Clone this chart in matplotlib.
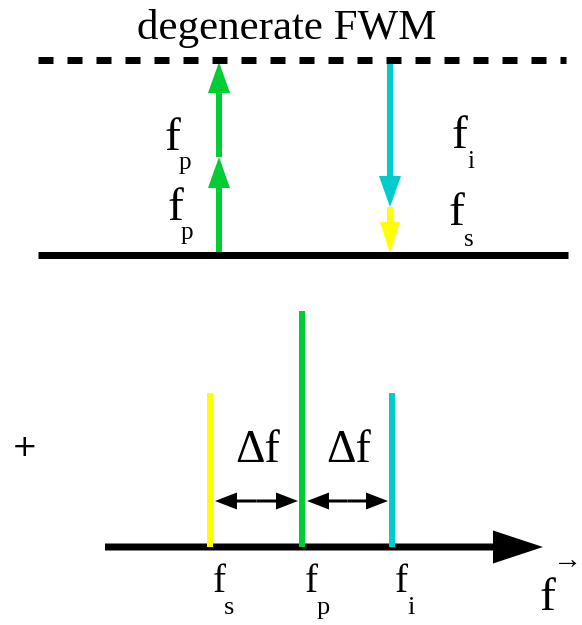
"""Degenerate four-wave mixing: energy levels and resulting spectrum."""

import matplotlib
matplotlib.use("Agg")
import matplotlib.pyplot as plt
from matplotlib.patches import FancyArrow

plt.rcParams["font.family"] = ["Liberation Serif", "DejaVu Serif"]
plt.rcParams["lines.scale_dashes"] = False

W, H = 582, 625
PX = 72 / 100  # points per pixel at dpi 100

GREEN = "#00cc33"
CYAN = "#00cccc"
YELLOW = "#ffff00"

# energy-level diagram (pixel coordinates, y grows downward)
ground_level = 255
virtual_level = 60
pump_x = 219
pump_steps = [255, 157, 62]          # two stacked pump photons
idler_x = 390
idler_span = [60, 207]
signal_span = [207, 253]

# spectrum
spec_names = ["s", "p", "i"]
spec_pos = [210, 302, 392]
spec_top = [393, 311, 393]
spec_colors = [YELLOW, GREEN, CYAN]
axis_y = 547
delta_y = 501


def arrow(ax, x0, y0, x1, y1, color, width, hw, hl):
    ax.add_patch(FancyArrow(x0, y0, x1 - x0, y1 - y0, width=width, head_width=hw,
                            head_length=hl, length_includes_head=True,
                            color=color, lw=0))


def flabel(ax, x, y, sub, dx, dy, size=34, subsize=18):
    ax.text(x, y, "f", fontsize=size, ha="center", va="baseline")
    ax.text(x + dx, y + dy, sub, fontsize=subsize, ha="center", va="baseline")


fig = plt.figure(figsize=(W / 100, H / 100), dpi=100)
ax = fig.add_axes([0, 0, 1, 1])
ax.set_xlim(0, W)
ax.set_ylim(H, 0)
ax.axis("off")

ax.text(287, 39, "degenerate FWM", fontsize=31, ha="center", va="baseline")

ax.plot([38, 566], [virtual_level] * 2, color="black", lw=7 * PX,
        dashes=(15 * PX, 14 * PX), solid_capstyle="butt", dash_capstyle="butt")
ax.plot([38, 568], [ground_level] * 2, color="black", lw=7 * PX,
        solid_capstyle="butt")

for y0, y1 in zip(pump_steps[:-1], pump_steps[1:]):
    arrow(ax, pump_x, y0, pump_x, y1, GREEN, 6, 22, 31)
arrow(ax, idler_x, signal_span[0], idler_x, signal_span[1], YELLOW, 6, 20, 31)
arrow(ax, idler_x, idler_span[0], idler_x, idler_span[1], CYAN, 6, 22, 31)

flabel(ax, 172, 150, "p", 13, 19)
flabel(ax, 175, 220, "p", 12, 19)
flabel(ax, 459, 148, "i", 12, 20)
flabel(ax, 456, 225, "s", 13, 21)

# spectrum
arrow(ax, 105, axis_y, 543, axis_y, "black", 7, 33, 50)
for x, top, c in zip(spec_pos, spec_top, spec_colors):
    ax.plot([x, x], [axis_y, top], color=c, lw=6 * PX, solid_capstyle="butt")

for a, b in zip(spec_pos[:-1], spec_pos[1:]):
    lo, hi = a + 5, b - 4
    mid = (lo + hi) / 2
    arrow(ax, mid, delta_y, lo, delta_y, "black", 3, 17, 22)
    arrow(ax, mid, delta_y, hi, delta_y, "black", 3, 17, 22)
    ax.text(mid + 1, 462, "Δf", fontsize=33, ha="center", va="baseline")

for x, name in zip(spec_pos, spec_names):
    flabel(ax, x + 9, 592, name, 12 if name == "p" else 10, 22, size=28, subsize=19)

ax.text(547, 610, "f", fontsize=34, ha="center", va="baseline")
ax.text(568, 568, "→", fontsize=21, ha="center", va="baseline")
ax.text(25, 447, "+", fontsize=22, ha="center", va="center",
        family=["DejaVu Sans"])

fig.savefig("out.png", dpi=100)
